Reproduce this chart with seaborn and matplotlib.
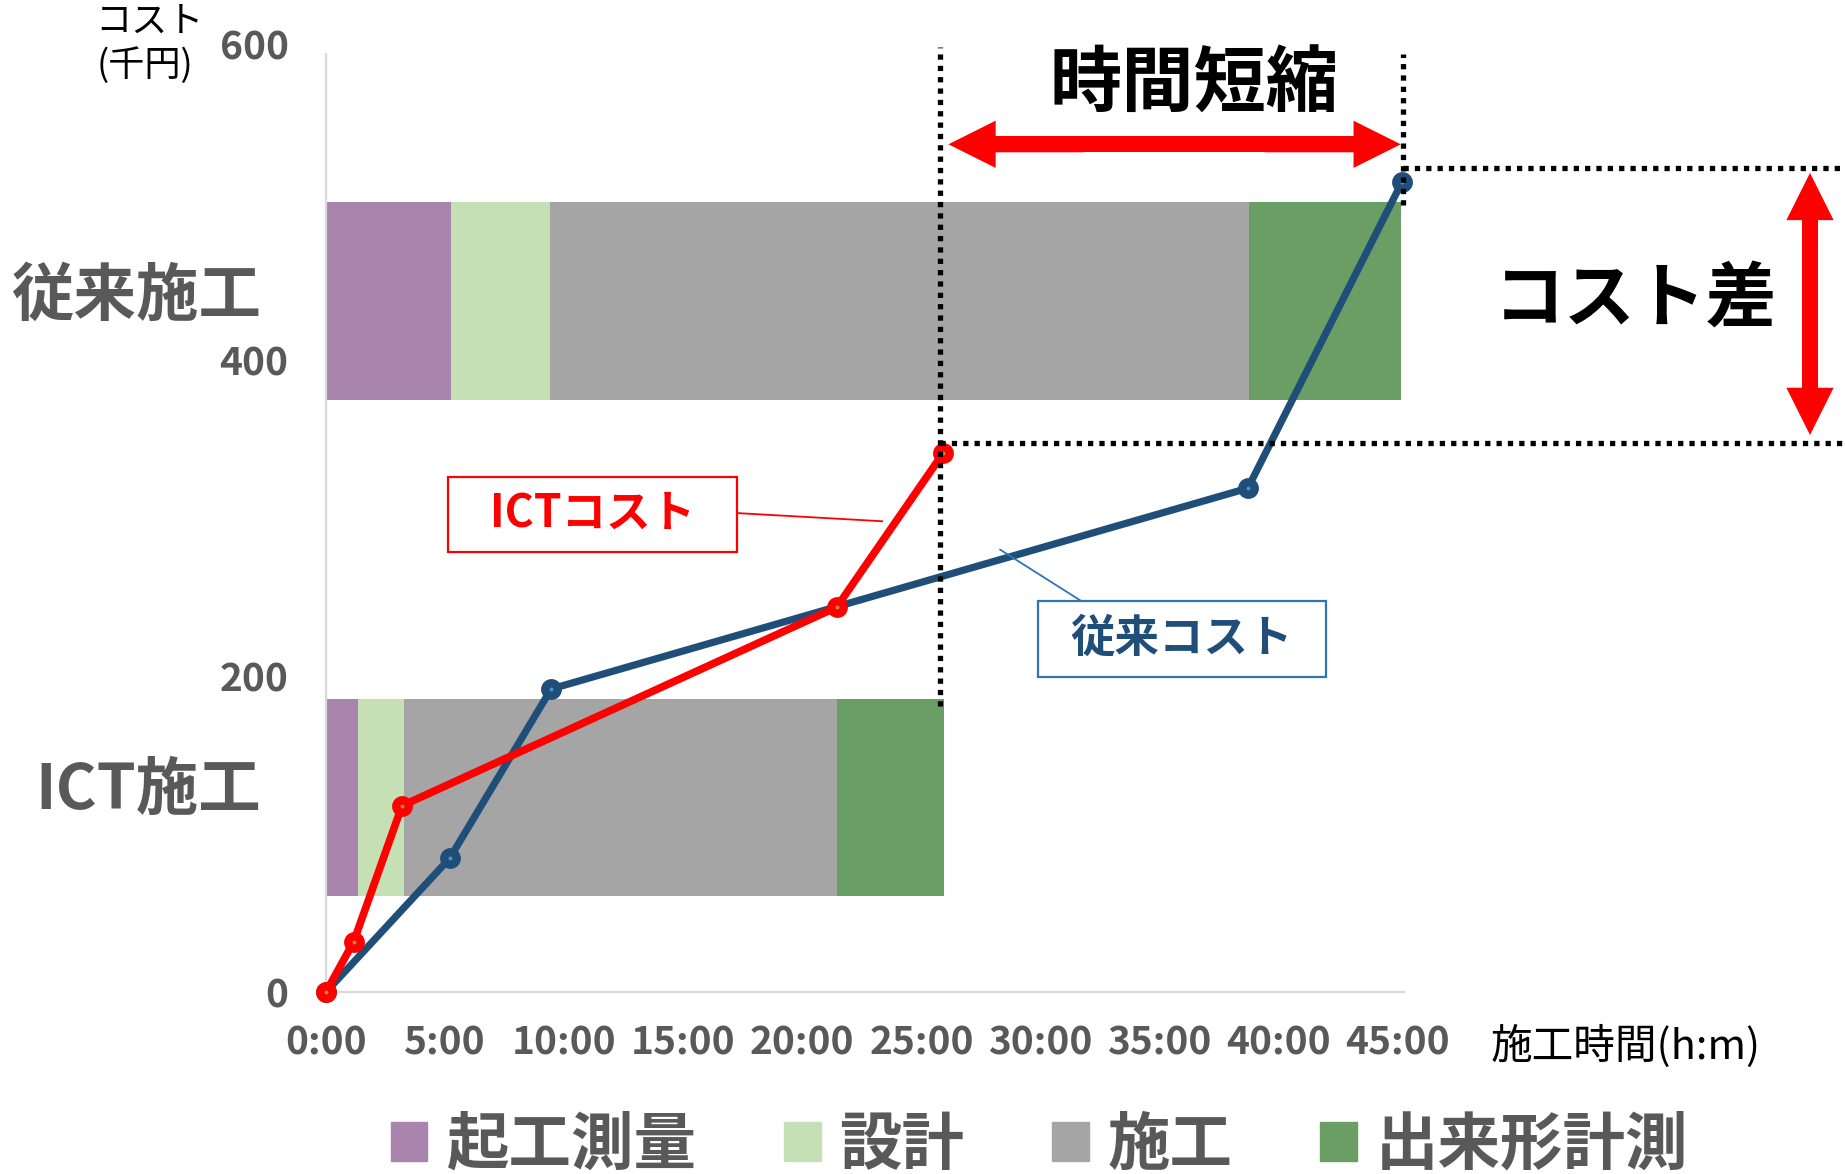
import numpy as np
import pandas as pd
import matplotlib
matplotlib.use("Agg")
import matplotlib.pyplot as plt
import matplotlib.patches as mpatches
from matplotlib.patches import FancyArrowPatch, ArrowStyle, Rectangle
from matplotlib.lines import Line2D
import seaborn as sns

# ---------------- data ----------------
phases = ["起工測量", "設計", "施工", "出来形計測"]
phase_colors = ["#a984ac", "#c5e0b4", "#a5a5a5", "#6a9e65"]
methods = ["従来施工", "ICT施工"]
conv_phase_hours = [5.24, 4.16, 29.33, 6.39]
ict_phase_hours = [1.35, 1.93, 18.16, 4.50]

conv_time = [0, 5.19, 9.45, 38.70, 45.18]
conv_cost = [0, 84.6, 191.8, 318.9, 513.0]
ict_time = [0, 1.16, 3.19, 21.44, 25.92]
ict_cost = [0, 31.8, 117.9, 243.6, 341.4]

x_ticks = [0, 5, 10, 15, 20, 25, 30, 35, 40, 45]
x_tick_labels = [f"{h}:00" for h in x_ticks]
y_ticks = [0, 200, 400, 600]

# ---------------- layout constants ----------------
bar_centres = [437.5, 123.0]   # where the two stacked bars sit on the cost axis
bar_thickness = 125.0
GRAY_TXT = "#595959"
AX_LINE = "#d9d9d9"

sns.set_theme(style="white")
plt.rcParams["font.family"] = ["Noto Sans CJK JP", "DejaVu Sans"]

fig = plt.figure(figsize=(18.45, 11.74), dpi=100)
ax = fig.add_axes([0.1767, 0.1550, 0.5842, 0.8074])

# ---------------- stacked horizontal bars ----------------
cum_conv = np.cumsum(conv_phase_hours)
cum_ict = np.cumsum(ict_phase_hours)
width_frac = bar_thickness / (bar_centres[0] - bar_centres[1])
for i in reversed(range(len(phases))):
    d = pd.DataFrame({"t": [cum_conv[i], cum_ict[i]], "pos": bar_centres})
    sns.barplot(data=d, x="t", y="pos", orient="y", native_scale=True,
                width=width_frac, color=phase_colors[i], saturation=1,
                linewidth=0, errorbar=None, ax=ax, zorder=2)

# ---------------- cost lines ----------------
sns.lineplot(x=conv_time, y=conv_cost, color="#1f4e79", lw=5.2, marker="o",
             markersize=9, markerfacecolor="#4f8fd0", markeredgecolor="#1f4e79",
             markeredgewidth=6, clip_on=False, ax=ax, zorder=4)
sns.lineplot(x=ict_time, y=ict_cost, color="#ff0000", lw=5.5, marker="o",
             markersize=9, markerfacecolor="#ed7d31", markeredgecolor="#ff0000",
             markeredgewidth=6, clip_on=False, ax=ax, zorder=5)

# ---------------- axes styling ----------------
ax.set_xlim(0, 45.25)
ax.set_ylim(0, 600)
ax.set_xticks(x_ticks)
ax.set_xticklabels(x_tick_labels)
ax.set_yticks(y_ticks)
ax.set_yticklabels([str(v) for v in y_ticks])
ax.set_xlabel("")
ax.set_ylabel("")
for s in ["top", "right"]:
    ax.spines[s].set_visible(False)
for s in ["left", "bottom"]:
    ax.spines[s].set_color(AX_LINE)
    ax.spines[s].set_linewidth(1.6)
ax.spines["left"].set_bounds(0, 594)
ax.tick_params(axis="x", length=0, pad=23, labelsize=28, labelcolor=GRAY_TXT)
ax.tick_params(axis="y", length=0, pad=27, labelsize=28, labelcolor=GRAY_TXT)
ax.set_xticks([0], minor=True)
ax.tick_params(axis="x", which="minor", length=20, width=1.6, color=AX_LINE, direction="out")
for lab in ax.get_xticklabels() + ax.get_yticklabels():
    lab.set_fontweight("bold")
ax.grid(False)

# ---------------- dotted guide lines ----------------
dot_kw = dict(color="black", lw=3.8, linestyle=(0, (1, 1.15)),
              dash_capstyle="butt", clip_on=False, zorder=6)
ax.plot([25.78, 25.78], [181, 598], **dot_kw)
ax.plot([45.22, 45.22], [498, 594], **dot_kw)
ax.plot([45.22, 64.0], [521.6, 521.6], **dot_kw)
ax.plot([25.78, 64.0], [347.5, 347.5], **dot_kw)

# ---------------- double arrows ----------------
HEAD_PX = 47  # head length in pixels (34 pt at 100 dpi)

def double_arrow(p0, p1):
    # solid shaft between the two head bases, then a filled head at each end
    P0 = ax.transData.transform(p0)
    P1 = ax.transData.transform(p1)
    u = (P1 - P0) / np.linalg.norm(P1 - P0)
    inv = ax.transData.inverted()
    s0 = inv.transform(P0 + u * (HEAD_PX - 6))
    s1 = inv.transform(P1 - u * (HEAD_PX - 6))
    ax.plot([s0[0], s1[0]], [s0[1], s1[1]], color="#ff0000", lw=11.5,
            solid_capstyle="butt", clip_on=False, zorder=7)
    for end, other in ((p0, p1), (p1, p0)):
        start = (end[0] + (other[0] - end[0]) * 0.3, end[1] + (other[1] - end[1]) * 0.3)
        a = FancyArrowPatch(start, end,
                            arrowstyle=ArrowStyle.Simple(head_length=34, head_width=34, tail_width=11.5),
                            mutation_scale=1, color="#ff0000", lw=0,
                            shrinkA=0, shrinkB=0, clip_on=False, zorder=8)
        ax.add_patch(a)

double_arrow((26.13, 536.6), (45.12, 536.6))
double_arrow((62.3, 518.5), (62.3, 352.6))

# ---------------- texts ----------------
fig.text(0.6472, 0.9276, "時間短縮", fontsize=52, fontweight="bold", color="black",
         ha="center", va="center")
fig.text(0.8862, 0.7445, "コスト差", fontsize=51, fontweight="bold", color="black",
         ha="center", va="center")
fig.text(0.1415, 0.7479, methods[0], fontsize=45, fontweight="bold", color=GRAY_TXT,
         ha="right", va="center")
fig.text(0.1415, 0.3265, methods[1], fontsize=45, fontweight="bold", color=GRAY_TXT,
         ha="right", va="center")
fig.text(0.0808, 0.9815, "コスト", fontsize=26, color="black", ha="center", va="center")
fig.text(0.0785, 0.9438, "(千円)", fontsize=26, color="black", ha="center", va="center")
fig.text(0.8813, 0.1084, "施工時間(h:m)", fontsize=30, color="black", ha="center", va="center")

# callout boxes
fig.patches.append(Rectangle((0.2430, 0.5299), 0.1563, 0.0641, transform=fig.transFigure,
                             fill=True, fc="white", ec="#ff0000", lw=1.6, zorder=8))
fig.text(0.3211, 0.5622, "ICTコスト", fontsize=32, fontweight="bold", color="#ff0000",
         ha="center", va="center", zorder=9)
fig.lines.append(Line2D([0.3992, 0.4783], [0.5630, 0.5560], transform=fig.transFigure,
                        color="#ff0000", lw=1.3, zorder=8))

fig.patches.append(Rectangle((0.5624, 0.4233), 0.1563, 0.0650, transform=fig.transFigure,
                             fill=True, fc="white", ec="#2e75b6", lw=1.6, zorder=8))
fig.text(0.6406, 0.4557, "従来コスト", fontsize=32, fontweight="bold", color="#1f4e79",
         ha="center", va="center", zorder=9)
fig.lines.append(Line2D([0.5420, 0.5858], [0.5319, 0.4883], transform=fig.transFigure,
                        color="#2e75b6", lw=1.3, zorder=8))

# ---------------- legend ----------------
handles = [mpatches.Patch(color=c, label=p) for p, c in zip(phases, phase_colors)]
leg = fig.legend(handles=handles, loc="center", bbox_to_anchor=(0.5633, 0.0247),
                 bbox_transform=fig.transFigure, ncol=4, frameon=False,
                 fontsize=45, handlelength=0.59, handleheight=0.59,
                 handletextpad=0.30, columnspacing=1.4, borderpad=0)
for t in leg.get_texts():
    t.set_color(GRAY_TXT)
    t.set_fontweight("bold")

fig.savefig("out.png", dpi=100)
